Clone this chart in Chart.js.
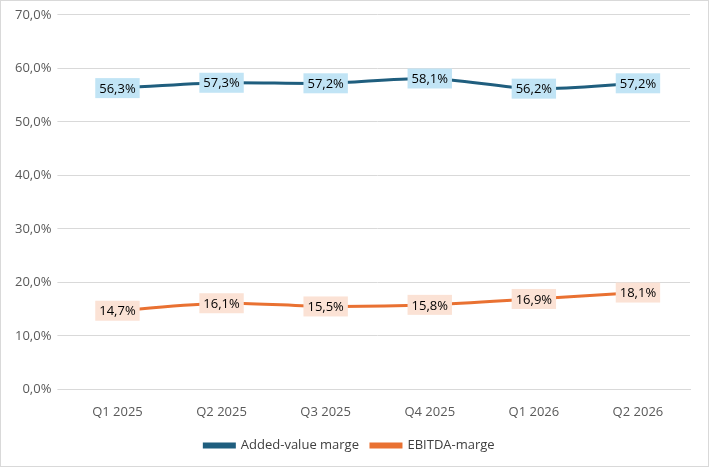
<!DOCTYPE html>
<html><head><meta charset="utf-8">
<script src="https://cdn.jsdelivr.net/npm/chart.js@4"></script>
<style>
html,body{margin:0;padding:0;background:#fff}
#wrap{position:absolute;left:0;top:0;width:707px;height:465px;border:1px solid #d9d9d9}
</style></head><body>
<div id="wrap"><canvas id="c"></canvas></div>
<script>
var labels = ['Q1 2025','Q2 2025','Q3 2025','Q4 2025','Q1 2026','Q2 2026'];
var series = [
  { label: 'Added-value marge', data: [56.3,57.3,57.2,58.1,56.2,57.2], color: '#1F5E7E', box: '#C1E4F5' },
  { label: 'EBITDA-marge', data: [14.7,16.1,15.5,15.8,16.9,18.1], color: '#E97132', box: '#FBE2D5' }
];
function pct(v){ return v.toFixed(1).replace('.', ',') + '%'; }

// boxed value labels
var boxLabels = {
  id: 'boxLabels',
  afterDatasetsDraw: function(chart) {
    var ctx = chart.ctx;
    ctx.save();
    ctx.font = '13px "Open Sans", sans-serif';
    ctx.textAlign = 'center'; ctx.textBaseline = 'middle';
    chart.data.datasets.forEach(function(ds, di) {
      chart.getDatasetMeta(di).data.forEach(function(pt, i) {
        var t = pct(ds.data[i]);
        var w = ctx.measureText(t).width + 8, h = 20;
        ctx.fillStyle = series[di].box;
        ctx.fillRect(pt.x - w/2, pt.y - h/2, w, h);
        ctx.fillStyle = '#000';
        ctx.fillText(t, pt.x, pt.y + 1);
      });
    });
    ctx.restore();
  }
};

new Chart(document.getElementById('c'), {
  type: 'line',
  data: {
    labels: labels,
    datasets: series.map(function(s) {
      return { label: s.label, data: s.data, borderColor: s.color, backgroundColor: s.color,
        borderWidth: 3, pointRadius: 0, tension: 0.3, fill: false };
    })
  },
  options: {
    responsive: true, maintainAspectRatio: false, animation: false,
    layout: { padding: { left: 8, right: 18, top: 13, bottom: 4 } },
    plugins: {
      legend: {
        position: 'bottom',
        labels: { color: '#404040', font: { size: 13, family: '"Open Sans", sans-serif' },
          boxWidth: 30, boxHeight: 3, padding: 12 }
      },
      tooltip: { enabled: false }
    },
    scales: {
      x: {
        offset: true,
        grid: { display: false },
        border: { color: '#d9d9d9' },
        ticks: { color: '#595959', font: { size: 13, family: '"Open Sans", sans-serif' }, padding: 7 }
      },
      y: {
        min: 0, max: 70,
        grid: { color: '#d9d9d9' },
        border: { display: false },
        ticks: { stepSize: 10, color: '#595959', padding: 6,
          font: { size: 13, family: '"Open Sans", sans-serif' },
          callback: function(v) { return pct(v); } }
      }
    }
  },
  plugins: [boxLabels]
});
</script>
</body></html>
